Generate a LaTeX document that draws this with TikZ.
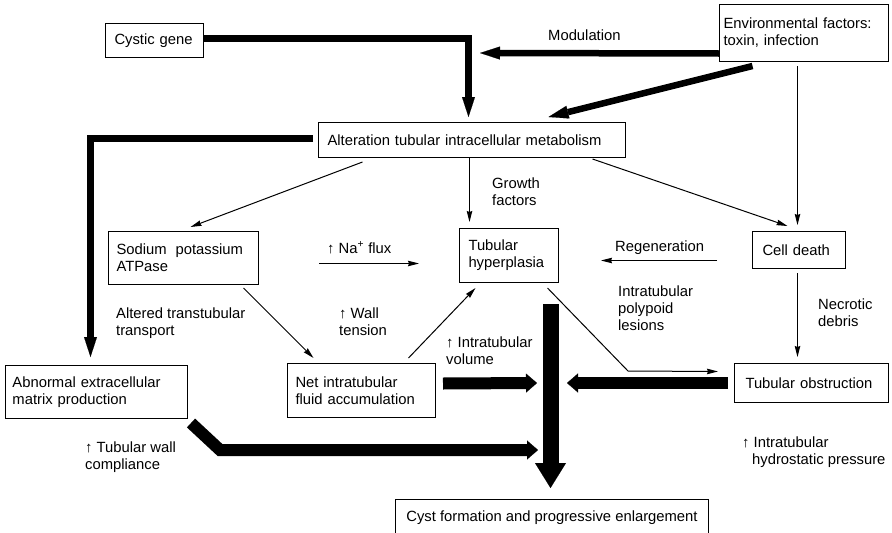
\documentclass[tikz,border=0pt]{standalone}
\usepackage{fontspec}
\setmainfont{Liberation Sans}
\usetikzlibrary{arrows.meta}
\begin{document}
\begin{tikzpicture}[x=1pt,y=-1pt,
  every node/.style={font=\fontsize{14.8}{17}\selectfont},
  box/.style={draw,line width=1pt,anchor=north west,align=left,inner ysep=0pt},
  lbl/.style={anchor=base west,inner sep=0pt,align=left},
  thinarrow/.style={line width=1pt,-{Stealth[length=11pt,width=5.5pt,inset=1pt]}},
  heavyA/.style={line width=6.5pt,line join=miter,-{Triangle[length=20pt,width=13pt,line width=0.1pt]}},
  heavyB/.style={line width=12pt,line join=miter,-{Triangle[length=11pt,width=19pt,line width=0.1pt]}},
  heavyC/.style={line width=16pt,-{Triangle[length=25pt,width=31pt,line width=0.1pt]}}]
\useasboundingbox (0,0) rectangle (892,533);
\clip (0,0) rectangle (892,533);

% boxes
\node[box,inner xsep=9pt,text width=80pt,minimum height=34pt] (cyst) at (105,23) {Cystic gene};
\node[box,inner xsep=4pt,text width=161pt,minimum height=57pt] (env) at (719,4) {Environmental factors:\\toxin, infection};
\node[box,inner xsep=9pt,text width=289pt,minimum height=35pt] (alter) at (318,122) {Alteration tubular intracellular metabolism};
\node[box,inner xsep=8pt,text width=134pt,minimum height=53pt] (sod) at (108,231) {Sodium\hspace{4pt} potassium\\ATPase};
\node[box,inner xsep=9pt,text width=81pt,minimum height=54pt] (hyper) at (459,228) {Tubular\\hyperplasia};
\node[box,inner xsep=10pt,text width=73pt,minimum height=37pt] (cell) at (752,231) {Cell death};
\node[box,inner xsep=7pt,text width=168pt,minimum height=53pt] (abn) at (5,365) {Abnormal extracellular\\matrix production};
\node[box,inner xsep=8pt,text width=132pt,minimum height=54pt] (net) at (287,363) {Net intratubular\\fluid accumulation};
\node[box,inner xsep=11pt,text width=132pt,minimum height=39pt] (obstr) at (734,363) {Tubular obstruction};
\node[box,inner xsep=0pt,minimum width=313pt,minimum height=36pt] (cystf) at (395,499) {Cyst formation and progressive enlargement};

% labels (anchor = baseline of last line)
\node[lbl] (mod) at (548,40) {Modulation};
\node[lbl] (gf) at (492,205) {Growth\\factors};
\node[lbl] (na) at (327,253) {↑ Na\textsuperscript{+} flux};
\node[lbl] (regen) at (615,251) {Regeneration};
\node[lbl] (att) at (116,335) {Altered transtubular\\transport};
\node[lbl] (wall) at (339,335) {↑ Wall\\tension};
\node[lbl] (poly) at (618,330) {Intratubular\\polypoid\\lesions};
\node[lbl] (necr) at (818,326) {Necrotic\\debris};
\node[lbl] (ivol) at (446,364) {↑ Intratubular\\volume};
\node[lbl] (twc) at (85,469) {↑ Tubular wall\\compliance};
\node[lbl] (ihp) at (742,464) {↑ Intratubular\\\hspace{10pt}hydrostatic pressure};

% free ends
\coordinate (modtip) at (480,53);
\coordinate (bend) at (628,371);
\coordinate (barL) at (537,383);
\coordinate (barR) at (567,383);
\coordinate (abnbend) at (220,450);
\coordinate (abntip) at (538,450);

% heavy connectors
\draw[heavyA] ([yshift=2pt]cyst.east) -| ([xshift=-3.5pt,yshift=5pt]alter.north);
\draw[heavyA] ([yshift=-20.5pt]env.west) -- (modtip);
\draw[heavyA] ([xshift=-51.5pt,yshift=-4pt]env.south) -- ([xshift=76.5pt,yshift=5pt]alter.north);
\draw[heavyA] ([xshift=-5pt,yshift=1.5pt]alter.west) -| ([xshift=-6pt,yshift=8pt]abn.north);
\draw[heavyC] ([xshift=41.5pt,yshift=-21pt]hyper.south) -- ([xshift=-1.5pt,yshift=11pt]cystf.north);
\draw[heavyB] ([xshift=7pt,yshift=7pt]net.east) -- (barL);
\draw[heavyB] ([xshift=-6pt]obstr.west) -- (barR);
\draw[heavyB] ([xshift=3pt,yshift=-4pt]abn.south east) -- (abnbend) -- (abntip);

% thin connectors
\draw[thinarrow] ([xshift=-109.5pt,yshift=-4pt]alter.south) -- ([xshift=7pt,yshift=4pt]sod.north);
\draw[thinarrow] ([xshift=-2.5pt]alter.south) -- ([xshift=-39.5pt,yshift=6pt]hyper.north);
\draw[thinarrow] ([xshift=120.5pt,yshift=-1pt]alter.south) -- ([xshift=-11.5pt,yshift=5pt]cell.north);
\draw[thinarrow] ([xshift=-6.5pt,yshift=-4pt]env.south) -- ([xshift=-1.5pt,yshift=6pt]cell.north);
\draw[thinarrow] ([xshift=60pt,yshift=-5.5pt]sod.east) -- ([xshift=-40pt,yshift=-8pt]hyper.west);
\draw[thinarrow] ([xshift=-35pt,yshift=-10.5pt]cell.west) -- ([xshift=42pt,yshift=-5pt]hyper.east);
\draw[thinarrow] ([xshift=60pt,yshift=-3pt]sod.south) -- ([xshift=-48pt,yshift=5pt]net.north);
\draw[thinarrow] ([xshift=47pt,yshift=5pt]net.north) -- ([xshift=-33.5pt,yshift=-5pt]hyper.south);
\draw[thinarrow] ([xshift=38.5pt,yshift=-5pt]hyper.south) -- (bend) -- ([xshift=-16pt,yshift=11.5pt]obstr.west);
\draw[thinarrow] ([xshift=-1.5pt,yshift=-4pt]cell.south) -- ([xshift=-14pt,yshift=6pt]obstr.north);
\end{tikzpicture}
\end{document}
